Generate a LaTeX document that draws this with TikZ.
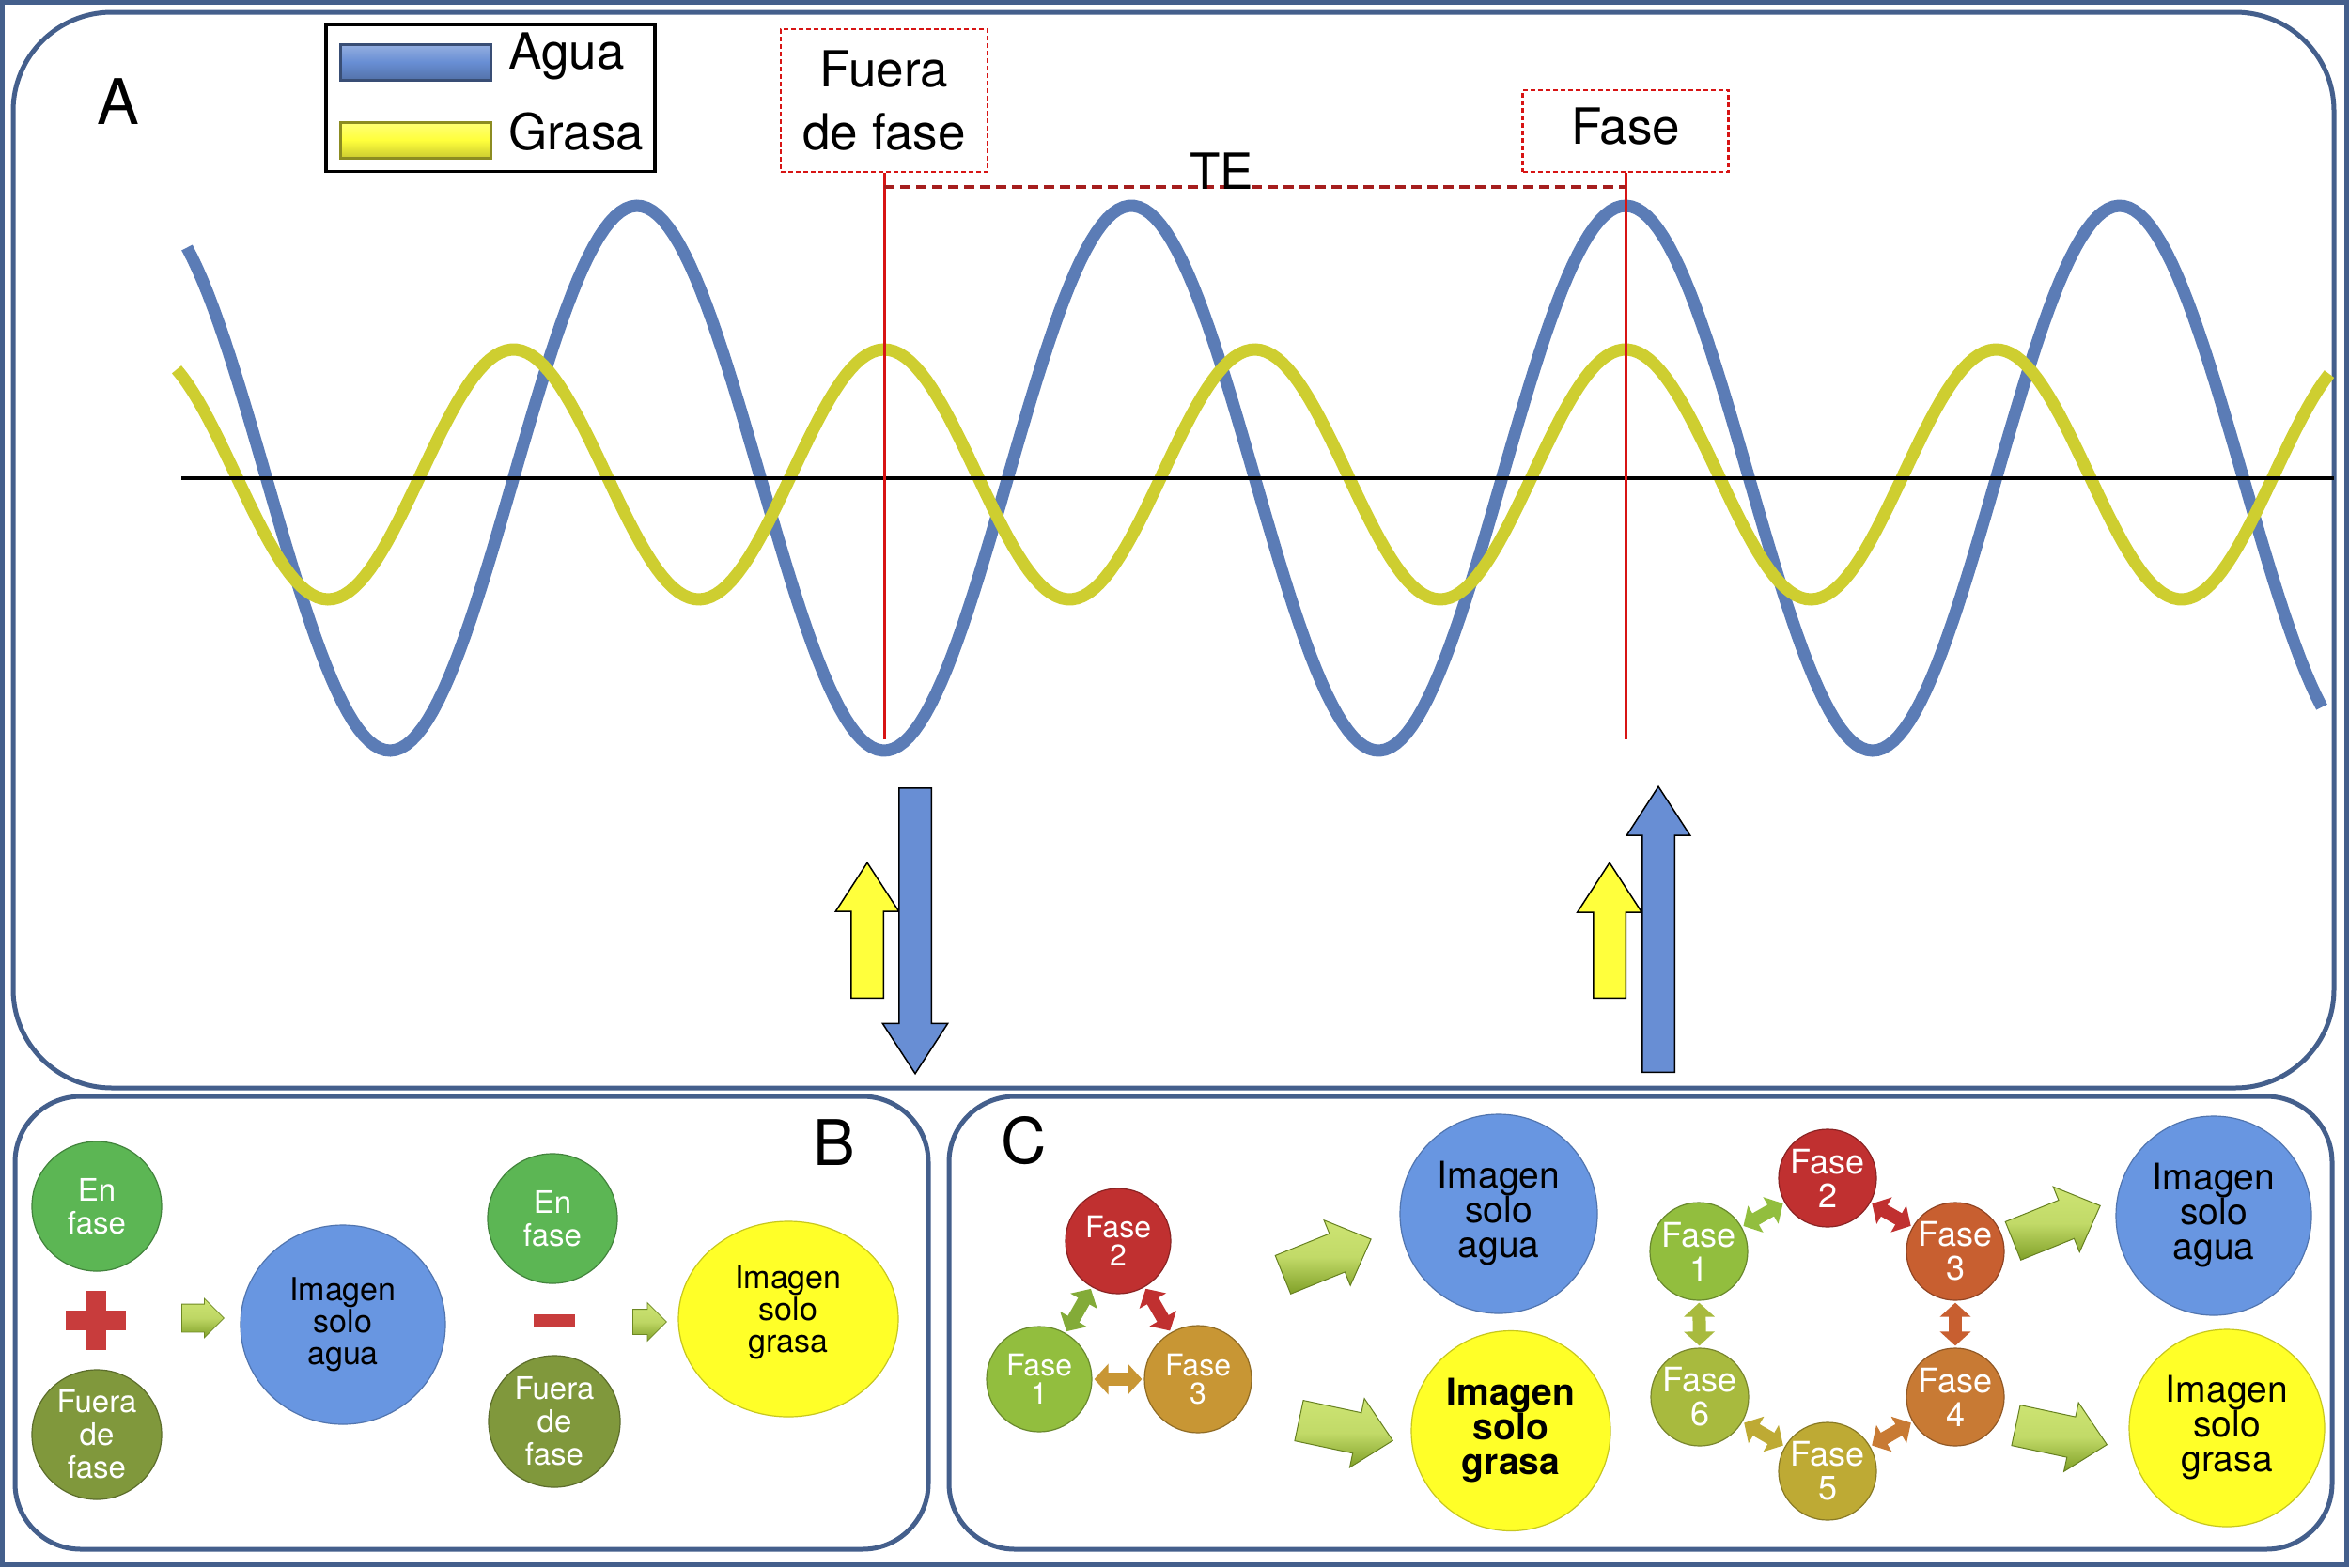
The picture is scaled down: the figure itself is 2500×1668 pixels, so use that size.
\documentclass[tikz,border=0pt]{standalone}
\usepackage{fontspec}
\setmainfont{TeX Gyre Heros}
\usetikzlibrary{arrows.meta,shapes.geometric,shapes.arrows,calc}

\definecolor{frame}{RGB}{68,95,140}
\definecolor{wblue}{RGB}{91,124,182}
\definecolor{wyel}{RGB}{206,206,48}
\definecolor{redl}{RGB}{215,20,20}
\definecolor{dred}{RGB}{165,30,30}
\definecolor{ablue}{RGB}{104,142,212}
\definecolor{ayel}{RGB}{255,255,60}
\definecolor{cgreen}{RGB}{92,182,84}
\definecolor{colive}{RGB}{128,152,60}
\definecolor{cblue}{RGB}{104,150,225}
\definecolor{cyel}{RGB}{255,255,40}
\definecolor{cred}{RGB}{192,48,48}
\definecolor{cfa}{RGB}{146,190,62}
\definecolor{cfcs}{RGB}{200,150,52}
\definecolor{cfc}{RGB}{200,95,48}
\definecolor{cfd}{RGB}{200,122,52}
\definecolor{cfe}{RGB}{190,170,52}
\definecolor{cff}{RGB}{168,186,62}
\definecolor{garL}{RGB}{205,228,115}
\definecolor{garD}{RGB}{128,160,40}
\definecolor{plusred}{RGB}{200,60,60}
\colorlet{rimin}{white}
\colorlet{rimout}{black}
\pgfdeclareradialshading[rimin,rimout]{rimshade}{\pgfpoint{0bp}{0bp}}{color(0bp)=(rimin);color(37bp)=(rimin);color(50bp)=(rimout)}

\newcommand{\FBig}{\fontsize{53}{67}\selectfont}
\newcommand{\FLab}{\fontsize{67}{70}\selectfont}
\newcommand{\FCirc}{\fontsize{33}{35}\selectfont}
\newcommand{\FImgB}{\fontsize{34}{34}\selectfont}
\newcommand{\FImgC}{\fontsize{39}{37}\selectfont}
\newcommand{\FSmall}{\fontsize{32}{30}\selectfont}
\newcommand{\FHex}{\fontsize{36}{36}\selectfont}

\tikzset{
  rim/.code={\colorlet{rimin}{#1}\colorlet{rimout}{#1!80!black}},
  panel/.style={draw=frame, line width=5pt},
  wave/.style={line width=13pt},
  redline/.style={draw=redl, line width=3pt},
  redbox/.style={draw=redl, dash pattern=on 5pt off 3pt, line width=2.5pt, align=center, inner sep=0pt, font=\FBig},
  tedash/.style={draw=dred, dash pattern=on 11pt off 6pt, line width=3.5pt},
  legbar/.style={rectangle, minimum width=160pt, minimum height=38pt, inner sep=0pt, draw=#1!55!black, line width=3pt, top color=#1!70!white, bottom color=#1!80!black, middle color=#1},
  sarrow/.style={single arrow, inner xsep=0pt, inner ysep=16.5pt, line width=1.5pt, draw=black, single arrow tip angle=66, anchor=tail},
  ball/.style={circle, inner sep=0pt, draw=#1!72!black, line width=1.2pt, rim=#1, shading=rimshade, text=white, align=center},
  ellip/.style={ellipse, inner sep=0pt, draw=#1!78!black, line width=1.2pt, rim=#1, shading=rimshade, text=black, align=center},
  smallarrow/.style={single arrow, inner xsep=0pt, draw=garD!85!black, line width=0.8pt, top color=garL, bottom color=garD, middle color=garL!80!garD, single arrow tip angle=90, anchor=tail},
  bigarrow/.style={single arrow, inner xsep=0pt, inner ysep=21.5pt, minimum width=74pt, single arrow head extend=15.5pt, single arrow tip angle=88, draw=garD!80!black, line width=1pt, top color=garL, bottom color=garD, middle color=garL!85!garD, anchor=tail},
  dtip/.tip={Triangle[width=32pt,length=15pt]},
  darrow/.style={draw=#1, line width=14pt, arrows=dtip-dtip, shorten <=2pt, shorten >=2pt},
}

\begin{document}
\begin{tikzpicture}[x=1pt,y=-1pt]
\useasboundingbox (0,0) rectangle (2500,1668);
\fill[white] (0,0) rectangle (2500,1668);
\draw[frame, line width=5pt] (2.5,2.5) rectangle (2497.5,1665.5);

% panels
\draw[panel, rounded corners=105pt] (14,13) rectangle (2484,1158);
\draw[panel, rounded corners=70pt] (16,1167) rectangle (988,1649);
\draw[panel, rounded corners=70pt] (1010,1167) rectangle (2482,1649);

% ---------- Panel A ----------
\node[anchor=base, font=\FLab] (labA) at (126,132) {A};

\draw[wave, wblue] plot[domain=199:2471, samples=400] (\x, {509+290*cos(0.684411*(\x-941))});
\draw[wave, wyel] plot[domain=188:2479, samples=400] (\x, {505-133*cos(0.912548*(\x-941))});

\coordinate (ax1) at (193,509);
\coordinate (ax2) at (2484,509);
\draw[black, line width=3.5pt] (ax1) -- (ax2);

% legend
\node[draw=black, line width=3.5pt, minimum width=350pt, minimum height=156pt, inner sep=0pt] (leg) at (522,104.5) {};
\node[legbar=ablue] (lb1) at (442,66) {};
\node[legbar=ayel] (lb2) at (442,149) {};
\node[anchor=base west, font=\FBig, inner sep=0pt] (tagua) at (541,73) {Agua};
\node[anchor=base west, font=\FBig, inner sep=0pt] (tgrasa) at (541,159) {Grasa};

% phase boxes
\node[redbox, minimum width=220pt, minimum height=152pt] (fbox) at (941,107) {Fuera\\de fase};
\node[redbox, minimum width=219pt, minimum height=87pt, text depth=10pt] (pbox) at (1730,139.5) {Fase};
\coordinate (tr1) at (941,787);
\coordinate (tr2) at (1730,787);
\draw[redline] (fbox.south) -- (tr1);
\draw[redline] (pbox.south) -- (tr2);
\coordinate (te1) at (941,199);
\coordinate (te2) at (1730,199);
\draw[tedash] (te1) -- (te2);
\node[anchor=base, font=\FBig, inner sep=0pt] (te) at (1300,201) {TE};

% vertical arrows
\node[sarrow, fill=ayel, minimum height=144pt, minimum width=66pt, single arrow head extend=16.5pt, rotate=90] (ya1) at (923,1063) {};
\node[sarrow, fill=ablue, minimum height=304pt, minimum width=68pt, single arrow head extend=17.5pt, rotate=-90] (ba1) at (974,838) {};
\node[sarrow, fill=ayel, minimum height=144pt, minimum width=67pt, single arrow head extend=17pt, rotate=90] (ya2) at (1713,1063) {};
\node[sarrow, fill=ablue, minimum height=304pt, minimum width=66pt, single arrow head extend=16.5pt, rotate=90] (ba2) at (1765,1142) {};

% ---------- Panel B ----------
\node[anchor=base, font=\FLab] (labB) at (888,1240) {B};
\node[ball=cgreen, minimum size=138pt, font=\FCirc] (enf1) at (103,1284) {En\\fase};
\node[ball=colive, minimum size=138pt, font=\FCirc] (fue1) at (103,1527) {Fuera\\de\\fase};
\fill[plusred] (70,1395) rectangle (134,1416);
\fill[plusred] (91,1374) rectangle (113,1437);
\node[smallarrow, inner ysep=14.5pt, minimum height=45pt, minimum width=41pt, single arrow head extend=6pt] (sa1) at (193,1403) {};
\node[ellip=cblue, minimum width=218pt, minimum height=212pt, font=\FImgB] (img1) at (365,1410) {Imagen\\solo\\agua};

\node[ball=cgreen, minimum size=138pt, font=\FCirc] (enf2) at (588,1297) {En\\fase};
\fill[plusred] (568,1399) rectangle (612,1413);
\node[ball=colive, minimum size=140pt, font=\FCirc] (fue2) at (590,1513) {Fuera\\de\\fase};
\node[smallarrow, inner ysep=13pt, minimum height=36pt, minimum width=40pt, single arrow head extend=7pt] (sa2) at (673,1407) {};
\node[ellip=cyel, minimum width=234pt, minimum height=208pt, font=\FImgB, text depth=22pt] (img2) at (839,1404) {Imagen\\solo\\grasa};

% ---------- Panel C ----------
\node[anchor=base, font=\FLab] (labC) at (1090,1238) {C};

\node[ball=cred, minimum size=112pt, font=\FSmall] (s2) at (1190,1321) {Fase\\2};
\node[ball=cfa, minimum size=112pt, font=\FSmall] (s1) at (1106,1468) {Fase\\1};
\node[ball=cfcs, minimum size=114pt, font=\FSmall] (s3) at (1275,1468) {Fase\\3};
\draw[darrow=cfa!90!black] (s1) -- (s2);
\draw[darrow=cred] (s2) -- (s3);
\draw[darrow=cfcs] (s1) -- (s3);

\node[bigarrow, minimum height=101pt, rotate=22] (ga1) at (1365,1357) {};
\node[bigarrow, minimum height=102pt, rotate=-12] (ga2) at (1382,1512) {};

\node[ellip=cblue, minimum width=210pt, minimum height=212pt, font=\FImgC] (bw1) at (1595,1292) {Imagen\\solo\\agua};
\node[ellip=cyel, minimum width=212pt, minimum height=213pt, font=\FImgC\bfseries] (yw1) at (1608,1523) {Imagen\\solo\\grasa};

\node[ball=cred, minimum size=104pt, font=\FHex] (h2) at (1945,1254) {Fase\\2};
\node[ball=cfa, minimum size=104pt, font=\FHex] (h1) at (1808,1332) {Fase\\1};
\node[ball=cfc, minimum size=104pt, font=\FHex] (h3) at (2081,1332) {Fase\\3};
\node[ball=cff, minimum size=104pt, font=\FHex] (h6) at (1809,1487) {Fase\\6};
\node[ball=cfd, minimum size=104pt, font=\FHex] (h4) at (2081,1487) {Fase\\4};
\node[ball=cfe, minimum size=104pt, font=\FHex] (h5) at (1945,1566) {Fase\\5};
\draw[darrow=cfa] (h1) -- (h2);
\draw[darrow=cred] (h2) -- (h3);
\draw[darrow=cfc] (h3) -- (h4);
\draw[darrow=cff] (h1) -- (h6);
\draw[darrow=cfe] (h6) -- (h5);
\draw[darrow=cfd] (h5) -- (h4);

\node[bigarrow, minimum height=100pt, rotate=22] (ga3) at (2142,1321) {};
\node[bigarrow, minimum height=99pt, rotate=-12] (ga4) at (2145,1517) {};

\node[ellip=cblue, minimum width=208pt, minimum height=212pt, font=\FImgC] (bw2) at (2356,1294) {Imagen\\solo\\agua};
\node[ellip=cyel, minimum width=208pt, minimum height=210pt, font=\FImgC] (yw2) at (2370,1520) {Imagen\\solo\\grasa};
\end{tikzpicture}
\end{document}
